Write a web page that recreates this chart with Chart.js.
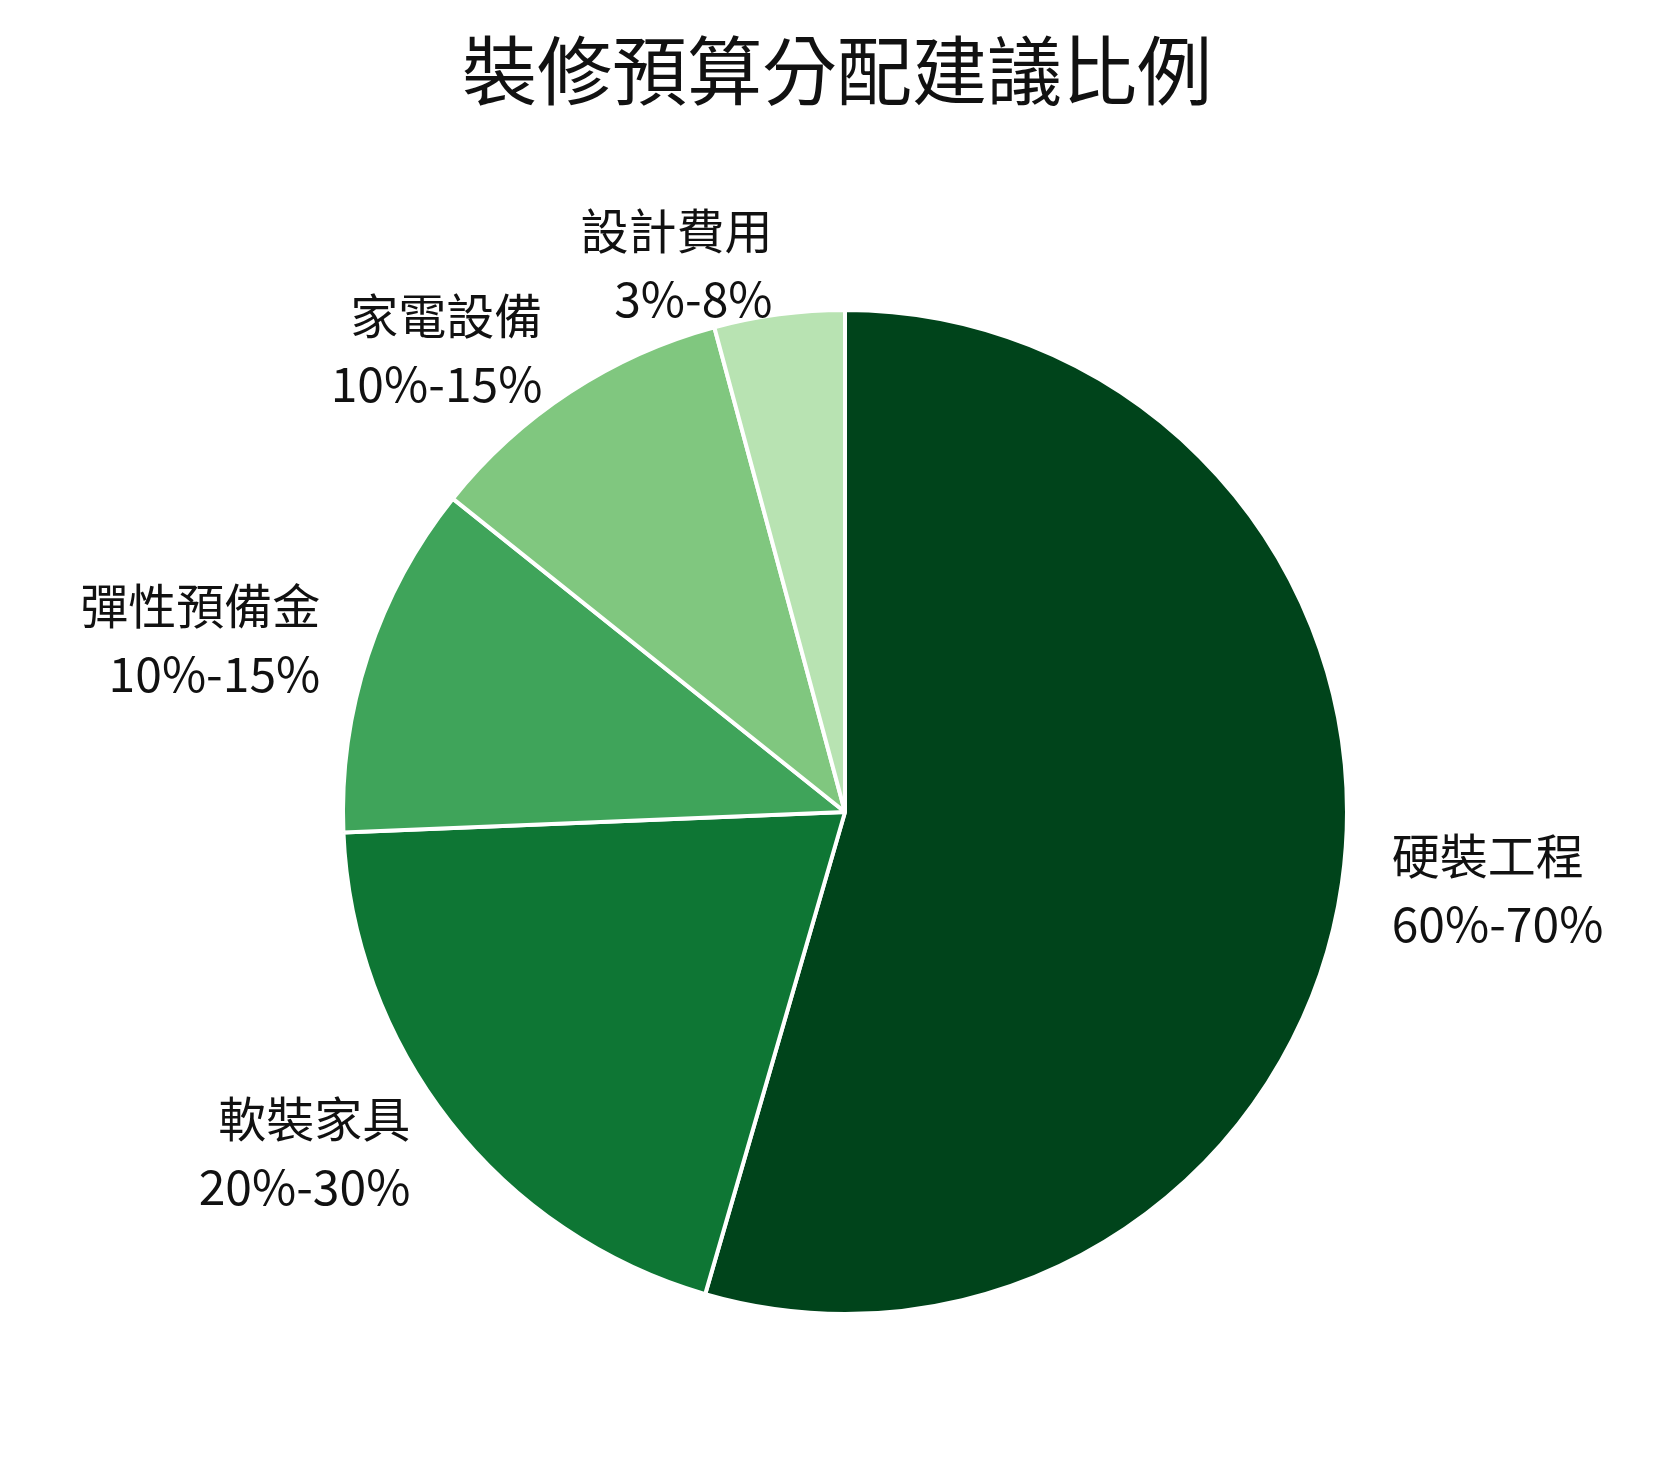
<!DOCTYPE html>
<html><head><meta charset="utf-8">
<script src="https://cdn.jsdelivr.net/npm/chart.js@4/dist/chart.umd.min.js"></script>
<style>html,body{margin:0;background:#fff}#wrap{width:1674px;height:1468px}</style>
</head><body><div id="wrap"><canvas id="c"></canvas></div>
<script>
const TITLE = "裝修預算分配建議比例";
const LABELS = ["硬裝工程", "軟裝家具", "彈性預備金", "家電設備", "設計費用"];
const RANGES = ["60%-70%", "20%-30%", "10%-15%", "10%-15%", "3%-8%"];
const VALUES = [54.6, 19.9, 11.4, 10.1, 4.2];
const COLORS = ["#00441b", "#0e7634", "#3fa45a", "#80c77f", "#b8e3b2"];
const FONT = '"Noto Sans CJK TC", "Noto Sans", sans-serif';

const outerLabels = {
  id: "outerLabels",
  afterDraw(chart) {
    const ctx = chart.ctx;
    ctx.save();
    ctx.fillStyle = "#111";
    ctx.textAlign = "center";
    ctx.textBaseline = "middle";
    ctx.font = `75px ${FONT}`;
    ctx.fillText(TITLE, chart.width / 2, 70);
    ctx.font = `48px ${FONT}`;
    chart.getDatasetMeta(0).data.forEach((arc, i) => {
      const mid = (arc.startAngle + arc.endAngle) / 2;
      const r = arc.outerRadius * 1.1;
      const x = arc.x + Math.cos(mid) * r;
      const y = arc.y + Math.sin(mid) * r;
      ctx.textAlign = Math.cos(mid) >= 0 ? "left" : "right";
      ctx.fillText(LABELS[i], x, y - 34);
      ctx.fillText(RANGES[i], x, y + 34);
    });
    ctx.restore();
  }
};

new Chart(document.getElementById("c"), {
  type: "pie",
  data: { labels: LABELS, datasets: [{ data: VALUES, backgroundColor: COLORS, borderColor: "#fff", borderWidth: 4 }] },
  options: {
    responsive: true, maintainAspectRatio: false, animation: false,
    layout: { padding: { top: 308, bottom: 152, left: 341, right: 325 } },
    plugins: { legend: { display: false }, tooltip: { enabled: false } }
  },
  plugins: [outerLabels]
});
</script></body></html>
